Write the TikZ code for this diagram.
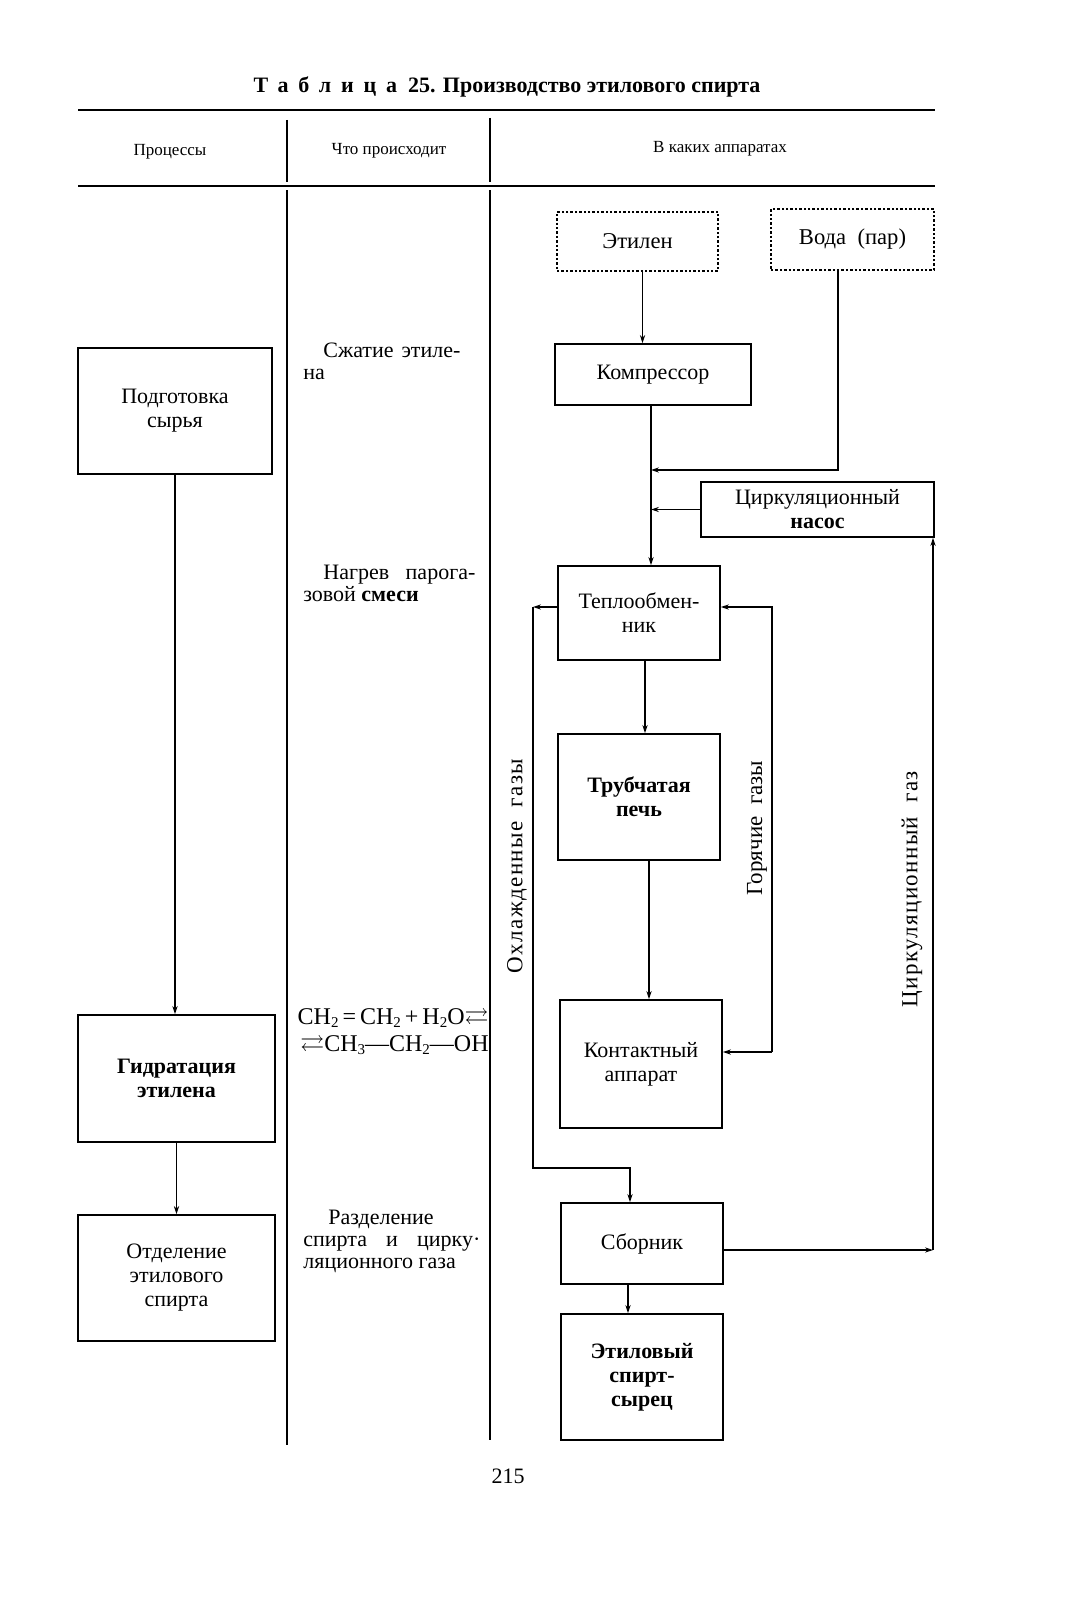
\documentclass[tikz,border=0pt]{standalone}
\usepackage{fontspec}
\usepackage{amssymb}
\setmainfont{Liberation Serif}
\usetikzlibrary{arrows.meta,calc}
\newcommand\lsub[1]{\raisebox{-0.3ex}{\fontsize{7.5}{8}\selectfont #1}}
\begin{document}
\begin{tikzpicture}[x=0.5pt,y=-0.5pt,
  box/.style={draw,line width=0.9pt,align=center,inner sep=2pt,font=\fontsize{11}{12}\selectfont},
  dbox/.style={draw,densely dotted,line width=1.2pt,align=center,font=\fontsize{11.3}{12}\selectfont},
  arr/.style={-{Stealth[length=4pt,width=2.6pt]},line width=0.6pt},
  rule/.style={line width=0.9pt},
  hdr/.style={font=\fontsize{8.5}{10}\selectfont},
  mid/.style={anchor=north west,inner sep=0pt,align=justify,font=\fontsize{11}{11}\selectfont},
  lbl/.style={rotate=90,font=\fontsize{11.5}{12}\selectfont}]
\useasboundingbox (0,0) rectangle (1067,1600);
% title
\node (title) at (507,87) {\fontsize{11}{12}\selectfont\bfseries{\addfontfeatures{LetterSpace=45}Таблица}\ \ 25. Производство этилового спирта};
% table rules
\draw[rule] (78,110) -- (935,110);
\draw[rule] (78,186) -- (935,186);
\draw[rule] (287,120) -- (287,182);
\draw[rule] (287,190) -- (287,1445);
\draw[rule] (490,118) -- (490,182);
\draw[rule] (490,190) -- (490,1440);
% headers
\node[hdr] (h1) at (170,152) {Процессы};
\node[hdr] (h2) at (389,151) {Что происходит};
\node[hdr] (h3) at (720,149) {В каких аппаратах};
% left column
\node[box,minimum width=97pt,minimum height=63pt] (podg) at (175,411) {Подготовка\\сырья};
\node[box,minimum width=98.5pt,minimum height=63.5pt] (gidr) at (176.5,1078.5) {\textbf{Гидратация}\\\textbf{этилена}};
\node[box,minimum width=98.5pt,minimum height=63pt] (otd) at (176.5,1278) {Отделение\\этилового\\спирта};
\draw[arr] (podg.south) -- (podg.south |- gidr.north);
\draw[arr] (gidr.south) -- (gidr.south |- otd.north);
% middle column
\node[mid,text width=78.5pt] (t1) at (303,343) {\hspace*{10pt}Сжатие этиле-\linebreak на};
\node[mid,text width=86pt] (t2) at (303,565) {\hspace*{10pt}Нагрев парога-\linebreak зовой \textbf{смеси}};
\node[anchor=north east,inner sep=0pt,align=right,font=\fontsize{12}{13.5}\selectfont] (t3) at (489,1008)
  {CH\lsub{2}\,=\,CH\lsub{2}\,+\,H\lsub{2}O$\rightleftarrows$\\$\rightleftarrows$CH\lsub{3}---CH\lsub{2}---OH};
\node[mid,text width=88.5pt] (t4) at (303,1210) {\hspace*{12.5pt}Разделение\linebreak спирта и цирку·\linebreak ляционного газа};
% right column
\node[dbox,minimum width=80.5pt,minimum height=29.5pt] (etil) at (637.5,241.5) {Этилен};
\node[dbox,minimum width=81.5pt,minimum height=30.5pt] (voda) at (852.5,239.5) {Вода\ \ (пар)};
\node[box,minimum width=98pt,minimum height=30.5pt] (komp) at (653,374.5) {Компрессор};
\node[box,minimum width=116.5pt,minimum height=27.5pt] (nasos) at (817.5,509.5) {Циркуляционный\\\textbf{насос}};
\node[box,minimum width=81pt,minimum height=47pt] (tepl) at (639,613) {Теплообмен-\\ник};
\node[box,minimum width=81pt,minimum height=63pt] (truba) at (639,797) {\textbf{Трубчатая}\\\textbf{печь}};
\node[box,minimum width=81pt,minimum height=64pt] (kont) at (641,1064) {Контактный\\аппарат};
\node[box,minimum width=81pt,minimum height=40.5pt] (sborn) at (642,1243.5) {Сборник};
\node[box,minimum width=81pt,minimum height=63pt] (spirt) at (642,1377) {\textbf{Этиловый}\\\textbf{спирт-}\\\textbf{сырец}};
% connectors
\coordinate (m1) at (651,0);
\coordinate (vx) at (838,470);
\draw[arr] ([xshift=2.5]etil.south) -- ([xshift=2.5]etil.south |- komp.north);
\draw[arr] (komp.south -| m1) -- (tepl.north -| m1);
\draw[arr] (voda.south -| vx) -- (vx) -- (vx -| m1);
\draw[arr] (nasos.west) -- (nasos.west -| m1);
\draw[arr] ([xshift=3]tepl.south) -- ([xshift=3]tepl.south |- truba.north);
\draw[arr] ([xshift=5]truba.south) -- ([xshift=5]truba.south |- kont.north);
% hot gases
\coordinate (hA) at (772,1052);
\coordinate (hB) at (772,607);
\draw[arr] (hA) -- (hA -| kont.east);
\draw[arr] (hA) -- (hB) -- (hB -| tepl.east);
% cooled gases
\coordinate (cA) at (533,607);
\coordinate (cB) at (533,1168);
\coordinate (cC) at (630,1168);
\draw[arr] (cA -| tepl.west) -- (cA);
\draw[arr] (cA) -- (cB) -- (cC) -- (cC |- sborn.north);
% circulation gas
\coordinate (gA) at (933,1250);
\draw[arr] (sborn.east |- gA) -- (gA);
\draw[arr] (gA) -- (gA |- nasos.south);
\draw[arr] ([xshift=-7]sborn.south) -- ([xshift=-7]sborn.south |- spirt.north);
% rotated labels
\node[lbl] (l1) at (517,866) {\addfontfeatures{LetterSpace=6}Охлажденные\ \ газы};
\node[lbl] (l2) at (757,828) {Горячие\ \ газы};
\node[lbl] (l3) at (912,889) {\addfontfeatures{LetterSpace=6}Циркуляционный\ \ газ};
% page number
\node (pg) at (508,1476) {\fontsize{11}{12}\selectfont 215};
\end{tikzpicture}
\end{document}
